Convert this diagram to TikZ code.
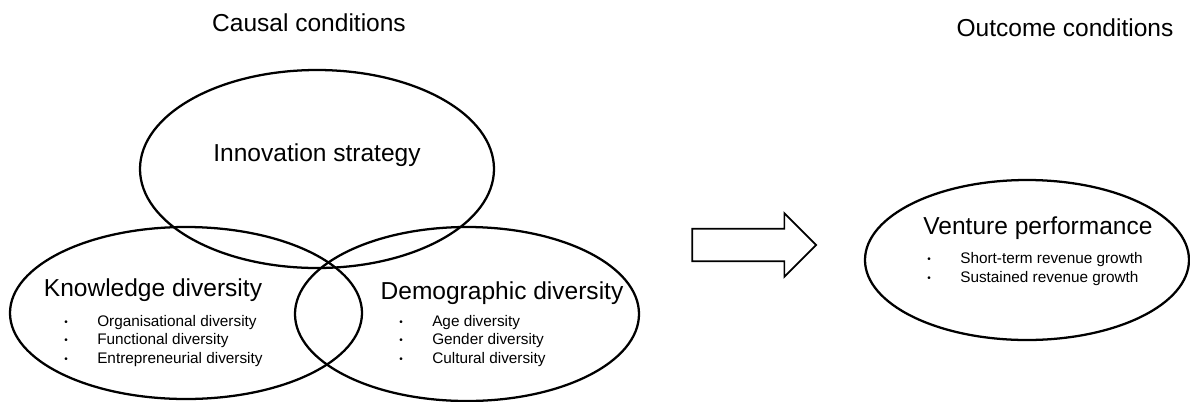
\documentclass[tikz,border=0pt]{standalone}
\usepackage{fontspec}
\setmainfont{Liberation Sans}
\usepackage{tikz}
\usetikzlibrary{shapes.geometric,shapes.arrows}

\newcommand{\itemdot}{\makebox[24.75pt][l]{\raisebox{0.9pt}{\fontsize{7.5pt}{7.5pt}\selectfont\textbullet}}}

\begin{document}
\begin{tikzpicture}[
		x=0.75pt, y=-0.75pt,
		set/.style = {
			shape=ellipse, draw, line width=1.7pt,
			inner sep=0pt},
		head/.style = {font=\fontsize{18.4pt}{22pt}\selectfont},
		items/.style = {
			anchor=west, align=left, inner sep=0pt,
			font=\fontsize{11.5pt}{13.9pt}\selectfont}]
		\useasboundingbox (0,0) rectangle (1190,401);
		\node[head] (causal) at (309,23) {Causal conditions};
		\node[head] (outcome) at (1065,28) {Outcome conditions};
		% the three causal sets
		\node[set, minimum width=265.5pt, minimum height=148.5pt] (innov) at (317,169) {};
		\node[set, minimum width=264pt, minimum height=129pt] (know) at (186,313) {};
		\node[set, minimum width=258pt, minimum height=130.5pt] (demo) at (467,314) {};
		\node[head] (innovtext) at (317,155) {Innovation strategy};
		\node[head] (knowtext) at (153,290) {Knowledge diversity};
		\node[items] (knowlist) at (64,341) {\itemdot Organisational diversity\\
			\itemdot Functional diversity\\
			\itemdot Entrepreneurial diversity};
		\node[head] (demotext) at (502,293) {Demographic diversity};
		\node[items] (demolist) at (399,341) {\itemdot Age diversity\\
			\itemdot Gender diversity\\
			\itemdot Cultural diversity};
		% arrow to the outcome
		\node[single arrow, draw, line width=1.3pt, inner xsep=0pt, inner ysep=11.6pt,
			single arrow head extend=11.6pt, single arrow tip angle=90,
			minimum height=93pt] (implies) at (746,245) {};
		% outcome set
		\node[set, minimum width=243pt, minimum height=120pt] (venture) at (1027,260) {};
		\node[head] (venturetext) at (1038,228) {Venture performance};
		\node[items] (venturelist) at (927,269) {\itemdot Short-term revenue growth\\
			\itemdot Sustained revenue growth};
	\end{tikzpicture}
\end{document}
